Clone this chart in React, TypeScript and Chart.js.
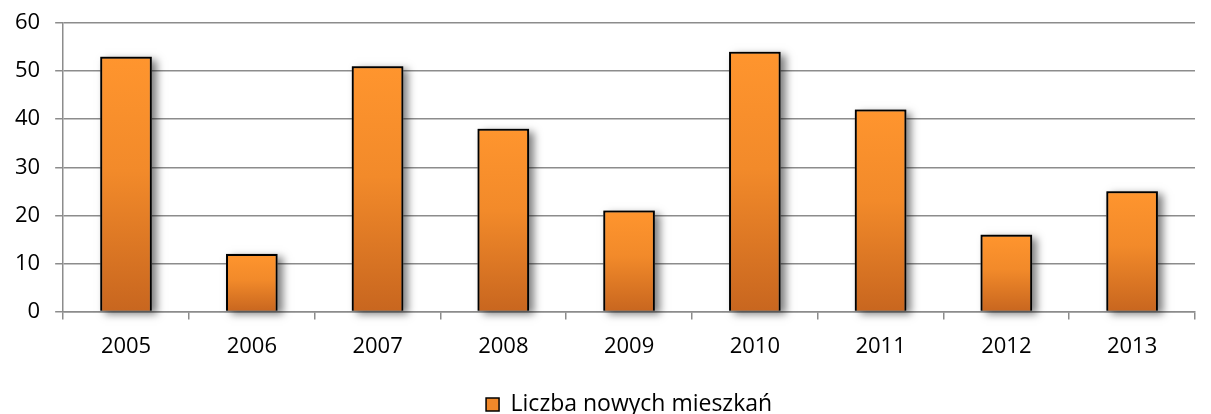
import React, { useEffect, useRef } from "react";
import { Chart, registerables } from "chart.js";

Chart.register(...registerables);

const years = ["2005", "2006", "2007", "2008", "2009", "2010", "2011", "2012", "2013"];
const newFlats = [53, 12, 51, 38, 21, 54, 42, 16, 25];
const seriesLabel = "Liczba nowych mieszkań";

const FONT = "'Open Sans', 'Noto Sans', sans-serif";

const shadowPlugin = {
  id: "barShadow",
  afterLayout(chart: any) {
    const L = chart.legend;
    const ca = chart.chartArea;
    if (!L || !ca) return;
    const w = L.right - L.left;
    const c = (ca.left + ca.right) / 2;
    L.left = c - w / 2;
    L.right = L.left + w;
  },
  beforeDatasetsDraw(chart: any) {
    const ctx = chart.ctx;
    const meta = chart.getDatasetMeta(0);
    ctx.save();
    ctx.shadowColor = "rgba(0,0,0,0.5)";
    ctx.shadowBlur = 8;
    ctx.shadowOffsetX = 5;
    ctx.shadowOffsetY = 3;
    ctx.fillStyle = "#777";
    meta.data.forEach((el: any) => {
      const p = el.getProps(["x", "y", "base", "width"], true);
      const left = p.x - p.width / 2;
      const top = Math.min(p.y, p.base);
      const h = Math.abs(p.base - p.y);
      ctx.fillRect(left, top, p.width, h);
    });
    ctx.restore();
  },
};

export default function App() {
  const ref = useRef<HTMLCanvasElement | null>(null);
  useEffect(() => {
    if (!ref.current) return;
    const chart = new Chart(ref.current, {
      type: "bar",
      data: {
        labels: years,
        datasets: [
          {
            label: seriesLabel,
            data: newFlats,
            borderColor: "#000000",
            borderWidth: 2,
            barPercentage: 0.41,
            categoryPercentage: 1,
            backgroundColor: (c: any) => {
              const ch = c.chart;
              const ys = ch.scales && ch.scales.y;
              if (!ys || c.raw === undefined || c.type !== "data") return "#F7902C";
              const top = ys.getPixelForValue(c.raw);
              const bot = ys.getPixelForValue(0);
              if (!isFinite(top) || !isFinite(bot) || top === bot) return "#F7902C";
              const g = ch.ctx.createLinearGradient(0, top, 0, bot);
              g.addColorStop(0, "#FF952E");
              g.addColorStop(0.45, "#F28A2A");
              g.addColorStop(1, "#C8661F");
              return g;
            },
          },
        ],
      },
      options: {
        animation: false,
        responsive: true,
        maintainAspectRatio: false,
        layout: { padding: { top: 23, right: 16, left: 0, bottom: -12 } },
        plugins: {
          legend: {
            position: "bottom",
            labels: {
              font: { family: FONT, size: 23 },
              color: "#000",
              boxWidth: 13,
              boxHeight: 13,
              padding: 2,
              generateLabels: () => [
                {
                  text: seriesLabel,
                  fillStyle: "#F0882A",
                  strokeStyle: "#000",
                  lineWidth: 1.5,
                  hidden: false,
                  datasetIndex: 0,
                },
              ],
            },
          },
          tooltip: { enabled: false },
        },
        scales: {
          x: {
            afterFit: (scale: any) => {
              scale.height += 17;
            },
            grid: {
              offset: true,
              drawOnChartArea: false,
              drawTicks: true,
              tickLength: 8,
              color: "#8c8c8c",
              lineWidth: 1.5,
            },
            border: { color: "#8c8c8c", width: 1.5 },
            ticks: {
              font: { family: FONT, size: 22 },
              color: "#000",
              padding: 14,
            },
          },
          y: {
            min: 0,
            max: 60,
            afterFit: (scale: any) => {
              scale.paddingTop = 0;
            },
            grid: {
              color: "#8c8c8c",
              lineWidth: 1.5,
              drawTicks: true,
              tickLength: 8,
            },
            border: { color: "#8c8c8c", width: 1.5 },
            ticks: {
              stepSize: 10,
              font: { family: FONT, size: 22 },
              color: "#000",
              padding: 15,
            },
          },
        },
      },
      plugins: [shadowPlugin],
    });
    return () => chart.destroy();
  }, []);
  return (
    <div style={{ position: "fixed", left: 0, top: 0, width: 1211, height: 414, background: "#fff" }}>
      <canvas ref={ref} />
    </div>
  );
}
